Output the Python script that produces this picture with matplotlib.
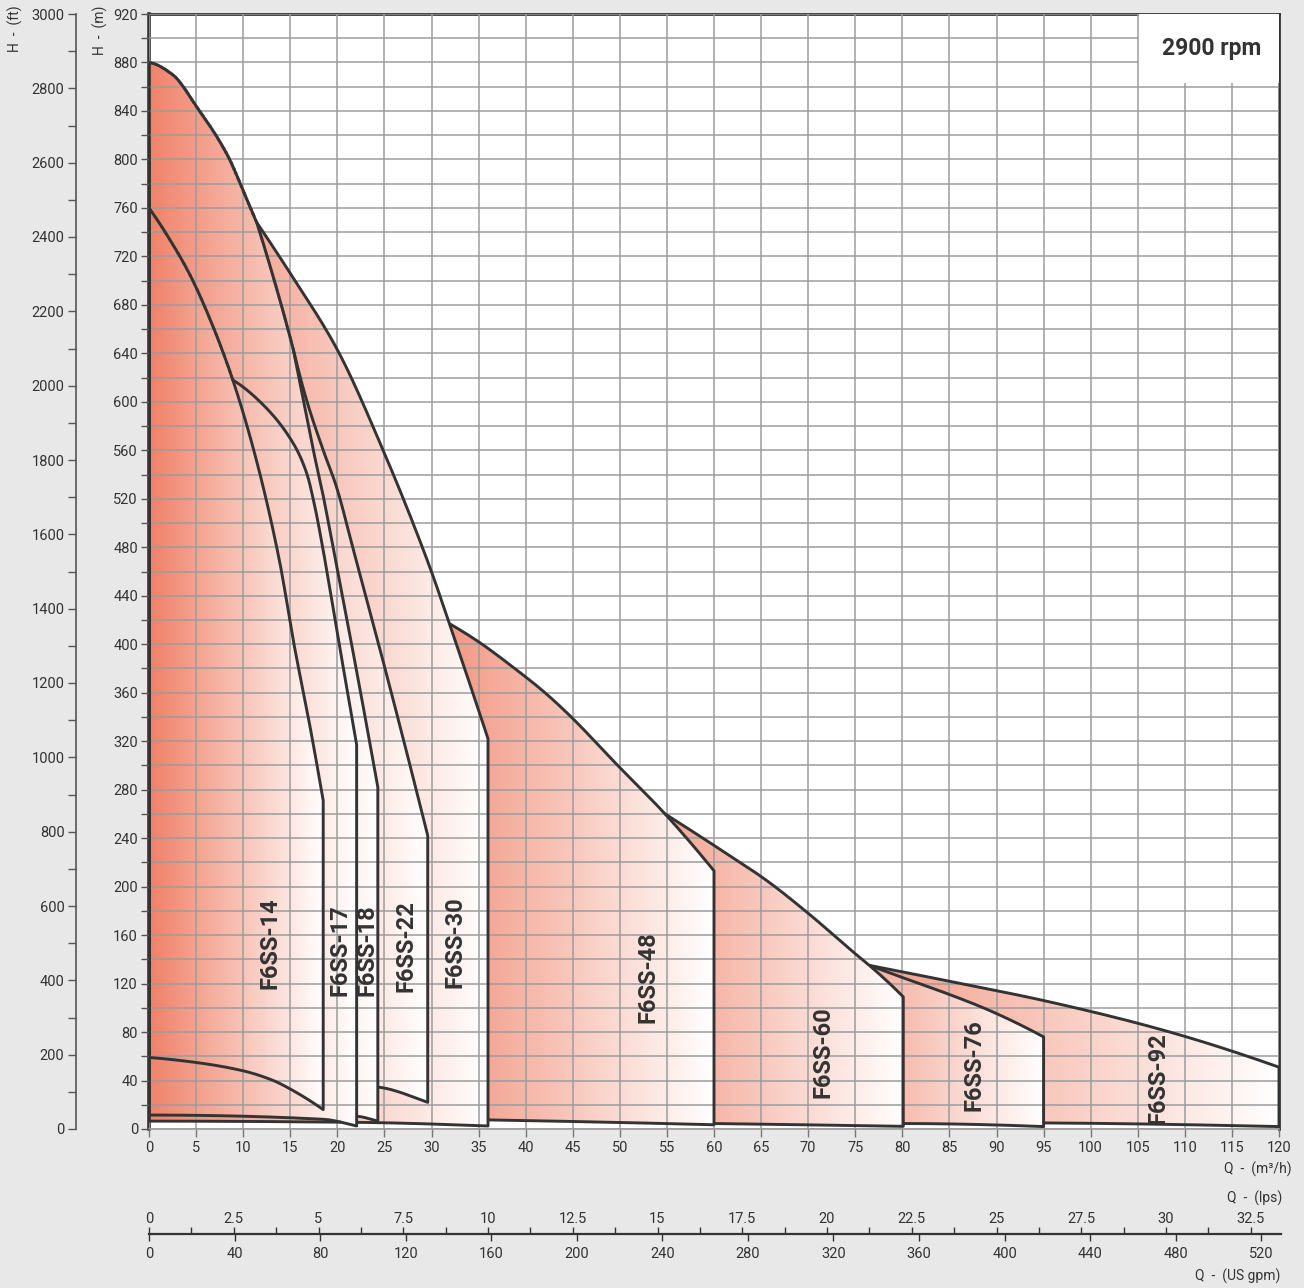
import numpy as np
import matplotlib.pyplot as plt
from matplotlib.patches import Polygon, Rectangle
from matplotlib.path import Path
from matplotlib.ticker import MultipleLocator

plt.rcParams['font.family'] = ['Roboto', 'DejaVu Sans']

# flow Q (m3/h) and head H (m), one array per curve piece
# upper envelope shared by F6SS-18/22/30 (down to the first kink)
q_outer_hi = [0, 2.5, 5.1, 8.3, 10.5, 11.44]
h_outer_hi = [880, 870, 843, 804, 765, 748]
# F6SS-30 below that kink
q_30_own = [11.44, 15, 20, 24.7, 29.8, 31.9, 36]
h_30_own = [748, 706, 643, 563, 464, 417, 322]
# steep piece shared by F6SS-18 and F6SS-22
q_steep = [11.44, 13.9, 15.3]
h_steep = [748, 684, 644]
q_18_own = [15.3, 16.4, 17.45, 18.3, 19.6, 21.9, 24.3]
h_18_own = [644, 601, 560, 530, 478, 384, 282]
q_22_own = [15.3, 16.75, 18.5, 19.9, 21.7, 25.6, 29.6]
h_22_own = [644, 601, 560, 530, 478, 364, 242]
q_14_top = [0, 2.2, 4.4, 6.7, 8.9, 11.4, 13.9, 15.3, 17.1, 18.5]
h_14_top = [760, 734, 704, 664, 618, 552, 467, 404, 332, 271]
q_17_own = [8.9, 11.8, 15.3, 16.75, 17.6, 18.3, 20.2, 22.05]
h_17_own = [618, 600, 566, 541, 514, 486, 400, 317]
q_48_top = [31.9, 35, 39, 41.9, 44.7, 49.65, 54.8, 60]
h_48_top = [417, 402, 379, 361, 341, 301, 260, 213]
q_60_top = [54.8, 60.2, 65.6, 70, 75.4, 76.5, 80.1]
h_60_top = [260, 233, 205, 178, 142, 135, 109]
q_76_top = [76.5, 80, 85, 89.2, 95]
h_76_top = [135, 125, 111, 98, 76]
q_92_top = [76.5, 85.2, 95, 107.5, 120]
h_92_top = [135, 121.6, 106, 82, 51]

# minimum-stage curves
q_14_bot = [0, 4.9, 10, 13.2, 15, 18.5]
h_14_bot = [59, 55, 48, 40, 33, 16]
q_17_bot = [0, 18.5, 22.05]
h_17_bot = [11.5, 8, 2.5]
q_18_bot = [0, 22.05, 24.3]
h_18_bot = [14, 10.5, 6.5]
q_22_bot = [0, 24.3, 29.6]
h_22_bot = [45, 34.6, 22]
q_30_bot = [0, 22, 36]
h_30_bot = [6.5, 5.5, 2.5]
q_48_bot = [31.9, 36, 60]
h_48_bot = [8, 7.5, 3.5]
q_60_bot = [54.8, 60, 80.1]
h_60_bot = [5, 4.5, 2.2]
q_76_bot = [76.5, 80, 95]
h_76_bot = [4.5, 4.5, 2]
q_92_bot = [76.5, 95, 120]
h_92_bot = [5.5, 5, 2]

models = ['F6SS-92', 'F6SS-76', 'F6SS-60', 'F6SS-48', 'F6SS-30',
          'F6SS-22', 'F6SS-18', 'F6SS-17', 'F6SS-14']
# how pale each gradient already is at its left edge
pale_start = [0.26, 0.37, 0.3, 0.22, 0.05, 0.05, 0.05, 0.05, 0.03]
label_q = [107.2, 87.6, 71.6, 53.0, 32.5, 27.25, 23.2, 20.3, 12.85]
label_h = [42, 53, 63.5, 125, 154, 151, 148, 148, 153]

salmon = np.array([239, 124, 98]) / 255
dark = '#333333'
gridc = '#9c9c9c'


def smooth(q, h, n=120):
    """shape-preserving cubic through the read points"""
    x = np.asarray(q, float)
    y = np.asarray(h, float)
    if len(x) < 3:
        xs = np.linspace(x[0], x[-1], n)
        return xs, np.interp(xs, x, y)
    dx = np.diff(x)
    dl = np.diff(y) / dx
    d = np.zeros_like(x)
    for k in range(1, len(x) - 1):
        if dl[k - 1] * dl[k] > 0:
            w1 = 2 * dx[k] + dx[k - 1]
            w2 = dx[k] + 2 * dx[k - 1]
            d[k] = (w1 + w2) / (w1 / dl[k - 1] + w2 / dl[k])
    for k, i0 in enumerate([0, -1]):
        h0, h1 = (dx[0], dx[1]) if k == 0 else (dx[-1], dx[-2])
        e0, e1 = (dl[0], dl[1]) if k == 0 else (dl[-1], dl[-2])
        v = ((2 * h0 + h1) * e0 - h0 * e1) / (h0 + h1)
        if np.sign(v) != np.sign(e0):
            v = 0
        elif np.sign(e0) != np.sign(e1) and abs(v) > abs(3 * e0):
            v = 3 * e0
        d[i0] = v
    xs = np.linspace(x[0], x[-1], n)
    idx = np.clip(np.searchsorted(x, xs) - 1, 0, len(x) - 2)
    t = (xs - x[idx]) / dx[idx]
    hh = dx[idx]
    h00 = 2 * t**3 - 3 * t**2 + 1
    h10 = t**3 - 2 * t**2 + t
    h01 = -2 * t**3 + 3 * t**2
    h11 = t**3 - t**2
    ys = h00 * y[idx] + h10 * hh * d[idx] + h01 * y[idx + 1] + h11 * hh * d[idx + 1]
    return xs, ys


def join(*pieces):
    xs = np.concatenate([p[0] for p in pieces])
    ys = np.concatenate([p[1] for p in pieces])
    return xs, ys


c14 = smooth(q_14_top, h_14_top)
keep = c14[0] <= q_17_own[0]
tops = [smooth(q_92_top, h_92_top), smooth(q_76_top, h_76_top),
        smooth(q_60_top, h_60_top), smooth(q_48_top, h_48_top),
        join(smooth(q_outer_hi, h_outer_hi), smooth(q_30_own, h_30_own)),
        join(smooth(q_outer_hi, h_outer_hi), smooth(q_steep, h_steep),
             smooth(q_22_own, h_22_own)),
        join(smooth(q_outer_hi, h_outer_hi), smooth(q_steep, h_steep),
             smooth(q_18_own, h_18_own)),
        join((c14[0][keep], c14[1][keep]), smooth(q_17_own, h_17_own)),
        c14]
bots = [smooth(q_92_bot, h_92_bot), smooth(q_76_bot, h_76_bot),
        smooth(q_60_bot, h_60_bot), smooth(q_48_bot, h_48_bot),
        smooth(q_30_bot, h_30_bot), smooth(q_22_bot, h_22_bot),
        smooth(q_18_bot, h_18_bot), smooth(q_17_bot, h_17_bot),
        smooth(q_14_bot, h_14_bot)]

fig = plt.figure(figsize=(13.04, 12.88), dpi=100, facecolor='#e8e8e8')
ax = fig.add_axes([149 / 1304, 159 / 1288, 1130 / 1304, 1115 / 1288])
ax.set_facecolor('white')
ax.set_xlim(0, 120)
ax.set_ylim(0, 920)
ax.set_axisbelow(False)

polys = []
for (qt, ht), (qb, hb) in zip(tops, bots):
    verts = np.vstack([np.column_stack([qt, ht]),
                       np.column_stack([qb, hb])[::-1]])
    polys.append(verts)

for i, verts in enumerate(polys):
    s, e = verts[:, 0].min(), verts[:, 0].max()
    t = np.linspace(0, 1, 256)
    f = pale_start[i] + (1 - pale_start[i]) * t
    cols = salmon[None, :] * (1 - f[:, None]) + f[:, None]
    im = ax.imshow(cols[None, :, :], extent=(s, e, 0, verts[:, 1].max()),
                   aspect='auto', interpolation='bilinear', zorder=1 + i * 0.01,
                   origin='lower')
    im.set_clip_path(Polygon(verts, closed=True, transform=ax.transData))


def dense(verts, n=12):
    closed = np.vstack([verts, verts[:1]])
    pts = []
    for a, b in zip(closed[:-1], closed[1:]):
        tt = np.linspace(0, 1, n, endpoint=False)[:, None]
        pts.append(a + (b - a) * tt)
    pts.append(closed[-1:])
    return np.vstack(pts)


# outlines: hide the parts covered by the models drawn in front
for i, verts in enumerate(polys):
    pts = dense(verts)
    hidden = np.zeros(len(pts), bool)
    for later in polys[i + 1:]:
        hidden |= Path(later).contains_points(pts)
    pts = pts.copy()
    pts[hidden] = np.nan
    ax.plot(pts[:, 0], pts[:, 1], color=dark, lw=2.1, zorder=4,
            solid_joinstyle='round', solid_capstyle='butt')

for name, lq, lh in zip(models, label_q, label_h):
    ax.text(lq, lh, name, rotation=90, ha='center', va='center',
            fontsize=17, fontweight='bold', color=dark, zorder=5)

# grid and ticks
ax.xaxis.set_major_locator(MultipleLocator(5))
ax.yaxis.set_major_locator(MultipleLocator(40))
ax.yaxis.set_minor_locator(MultipleLocator(20))
ax.grid(which='both', color=gridc, lw=1.1)
ax.tick_params(axis='x', length=6, width=1, color='#777777', labelsize=10.5,
               labelcolor=dark, pad=3)
ax.tick_params(axis='y', which='both', length=6, width=1, color='#555555',
               labelsize=10.5, labelcolor=dark, pad=2)
for side in ['top', 'right', 'left']:
    ax.spines[side].set_color(dark)
    ax.spines[side].set_linewidth(2)
ax.spines['left'].set_linewidth(2.6)
ax.spines['bottom'].set_color(gridc)
ax.spines['bottom'].set_linewidth(1.2)

# rpm box
ax.add_patch(Rectangle((0.876, 0.938), 0.124, 0.062, transform=ax.transAxes,
                       facecolor='white', edgecolor='none', zorder=6))
ax.text(0.94, 0.9695, '2900 rpm', transform=ax.transAxes, ha='center',
        va='center', fontsize=16.5, fontweight='bold', color=dark, zorder=7)

# feet axis on the far left
ax_ft = ax.twinx()
ax_ft.set_ylim(0, 3000)
ax_ft.yaxis.set_ticks_position('left')
ax_ft.spines['left'].set_position(('axes', -0.065))
ax_ft.spines['left'].set_visible(True)
ax_ft.spines['left'].set_color('#555555')
ax_ft.spines['left'].set_linewidth(1.2)
for side in ['right', 'top', 'bottom']:
    ax_ft.spines[side].set_visible(False)
ax_ft.yaxis.set_major_locator(MultipleLocator(200))
ax_ft.yaxis.set_minor_locator(MultipleLocator(100))
ax_ft.tick_params(axis='y', which='both', length=6, width=1, color='#555555',
                  labelsize=10.5, labelcolor=dark, pad=2)

# lps / US gpm scale below
ax_l = fig.add_axes([149 / 1304, 54 / 1288, 1132 / 1304, 1e-5])
ax_g = ax_l.twiny()
for a in (ax_l, ax_g):
    a.set_facecolor('none')
    a.set_yticks([])
    for side in ['left', 'right', 'top', 'bottom']:
        a.spines[side].set_visible(False)
ax_l.spines['top'].set_visible(True)
ax_l.spines['top'].set_color(dark)
ax_l.spines['top'].set_linewidth(1.6)

ax_l.set_xlim(0, 120 * 1132 / 1130 / 3.6)
ax_l.xaxis.set_ticks_position('top')
ax_l.set_xticks(np.arange(0, 33, 2.5))
ax_l.set_xticklabels([f'{v:g}' for v in np.arange(0, 33, 2.5)])
ax_l.xaxis.set_minor_locator(MultipleLocator(1.25))
ax_l.tick_params(axis='x', which='both', top=True, bottom=False,
                 labeltop=True, labelbottom=False, length=5, width=1,
                 color=dark, labelsize=10.5, labelcolor=dark, pad=0.5,
                 direction='out')

ax_g.set_xlim(0, 120 * 1132 / 1130 * 4.402868)
ax_g.xaxis.set_ticks_position('bottom')
ax_g.set_xticks(np.arange(0, 521, 40))
ax_g.tick_params(axis='x', top=False, bottom=True, labeltop=False,
                 labelbottom=True, length=5, width=1, color=dark,
                 labelsize=10.5, labelcolor=dark, pad=4, direction='out')

# axis titles
fig.text(15 / 1304, 1 - 29 / 1288, 'H  -  (ft)', rotation=90, ha='center',
         va='center', fontsize=10, color=dark)
fig.text(100 / 1304, 1 - 30 / 1288, 'H  -  (m)', rotation=90, ha='center',
         va='center', fontsize=10, color=dark)
fig.text(1292 / 1304, 1 - 1169 / 1288, 'Q  -  (m³/h)', ha='right',
         va='center', fontsize=10, color=dark)
fig.text(1282 / 1304, 1 - 1198 / 1288, 'Q  -  (lps)', ha='right',
         va='center', fontsize=10, color=dark)
fig.text(1280 / 1304, 1 - 1276 / 1288, 'Q  -  (US gpm)', ha='right',
         va='center', fontsize=10, color=dark)

fig.savefig('out.png', dpi=100, facecolor=fig.get_facecolor())
